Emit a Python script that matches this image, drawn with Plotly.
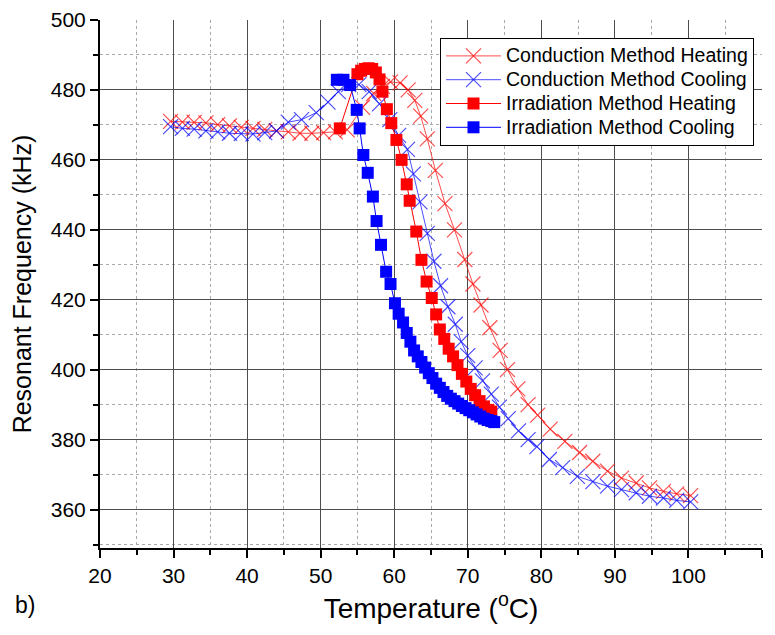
import plotly.graph_objects as go

# Conduction Method Heating (red X)
ch_x = [29.6, 31.2, 32.8, 34.4, 36.0, 37.6, 39.2, 40.8, 42.4, 44.0, 45.6, 47.2, 48.8, 50.4, 52.0, 53.6,
        55.7, 57.2, 58.4, 59.5, 60.8, 61.9, 62.8, 63.6, 64.5, 65.6, 66.9, 68.2, 69.6, 70.7, 71.8, 73.0,
        74.4, 75.4, 76.8, 78.2, 79.5, 81.2, 83.2, 85.2, 87.0, 89.0, 90.9, 92.9, 94.7, 96.6, 98.4, 100.3]
ch_y = [471.0, 470.8, 470.7, 470.6, 470.1, 469.7, 469.3, 469.0, 468.7, 468.3, 468.0, 467.6, 467.6, 467.8, 468.0, 468.6,
        475.0, 479.0, 481.0, 482.3, 482.0, 480.0, 477.0, 472.5, 466.0, 457.0, 447.5, 440.0, 431.5, 424.5, 418.5, 412.0,
        405.5, 400.0, 394.5, 390.0, 387.0, 383.0, 379.5, 376.3, 373.8, 371.0, 369.0, 367.6, 366.2, 365.2, 364.5, 364.0]

# Conduction Method Cooling (blue X)
cc_x = [29.6, 31.2, 32.8, 34.4, 36.0, 37.6, 39.2, 40.8, 42.4, 44.0, 45.6, 47.4, 49.4, 51.0, 52.4, 53.8,
        55.2, 56.6, 58.0, 59.4, 60.6, 61.8, 62.6, 63.5, 64.5, 65.4, 66.3, 67.3, 68.3, 69.1, 70.0, 71.0,
        72.0, 73.2, 74.3, 75.5, 76.9, 78.2, 79.4, 81.1, 82.9, 84.9, 87.0, 89.0, 90.9, 92.9, 94.7, 96.6,
        98.4, 100.3]
cc_y = [469.5, 469.0, 468.8, 468.3, 468.0, 467.6, 467.5, 467.4, 467.8, 468.3, 470.8, 471.5, 473.5, 476.5, 479.5, 481.5,
        481.5, 479.5, 476.0, 471.5, 467.0, 463.0, 456.0, 448.0, 439.0, 431.0, 424.0, 418.0, 413.0, 408.0, 404.0, 400.5,
        396.8, 393.0, 389.3, 386.0, 382.5, 380.0, 378.0, 374.3, 372.0, 369.5, 368.0, 366.7, 365.7, 364.8, 363.8, 363.3,
        362.6, 362.2]

# Irradiation Method Heating (red squares)
ih_x = [52.6, 55.0, 55.5, 56.0, 56.5, 57.0, 57.5, 58.0, 58.4, 59.0, 59.6, 60.3, 61.0, 61.7, 62.1, 63.0, 63.7,
        64.4, 65.1, 65.7, 66.2, 66.8, 67.4, 68.0, 68.6, 69.2, 69.8, 70.4, 71.0, 71.6, 72.2, 72.8, 73.2]
ih_y = [469.0, 484.5, 485.5, 486.0, 486.2, 486.0, 485.0, 483.0, 479.5, 474.5, 470.5, 465.7, 460.0, 453.0, 448.3, 439.5, 431.4,
        425.2, 420.5, 415.8, 411.5, 408.8, 406.0, 403.8, 401.3, 398.8, 396.6, 394.5, 392.7, 391.0, 389.5, 388.5, 388.0]

# Irradiation Method Cooling (blue squares)
ic_x = [52.2, 53.1, 54.0, 54.9, 55.3, 55.8, 56.4, 57.1, 57.6, 58.2, 58.9, 59.5, 60.1, 60.6, 61.2, 61.7, 62.2, 62.7,
        63.2, 63.7, 64.2, 64.7, 65.2, 65.7, 66.2, 66.7, 67.2, 67.7, 68.2, 68.7, 69.2, 69.7, 70.2, 70.7, 71.2, 71.7,
        72.2, 72.7, 73.2, 73.6]
ic_y = [482.9, 482.9, 481.4, 474.3, 469.0, 461.4, 456.3, 449.5, 442.5, 435.7, 428.0, 424.5, 419.0, 416.0, 413.5, 410.5,
        408.0, 405.5, 403.8, 402.2, 400.6, 399.0, 397.6, 396.0, 394.8, 393.6, 392.5, 391.7, 391.0, 390.3, 389.6, 389.0,
        388.4, 387.8, 387.2, 386.6, 386.0, 385.6, 385.3, 385.0]

names = ["Conduction Method Heating", "Conduction Method Cooling",
         "Irradiation Method Heating", "Irradiation Method Cooling"]

RED = "rgba(255,0,0,0.7)"
BLUE = "rgba(0,0,255,0.7)"
FONT = "Liberation Sans, Arial, sans-serif"

# page body adds an 8 px offset; target plot area on screen: x 100..762, y 20..548
OFF = 8
W, H = 775 - OFF, 635 - OFF
L, R, T, B = 100 - OFF, 13, 20 - OFF, 87
PW, PH = W - L - R, H - T - B
Y_MIN, Y_MAX = 349, 500


def lbl(s):
    return '<span style="font-size:19.5px">' + s + '</span>'


fig = go.Figure()
fig.add_trace(go.Scatter(x=ch_x, y=ch_y, name=lbl(names[0]), mode="lines+markers",
                         line=dict(color=RED, width=1),
                         marker=dict(symbol="x-thin", size=15, line=dict(color=RED, width=1.2))))
fig.add_trace(go.Scatter(x=cc_x, y=cc_y, name=lbl(names[1]), mode="lines+markers",
                         line=dict(color=BLUE, width=1),
                         marker=dict(symbol="x-thin", size=15, line=dict(color=BLUE, width=1.2))))
fig.add_trace(go.Scatter(x=ih_x, y=ih_y, name=lbl(names[2]), mode="lines+markers",
                         line=dict(color="#ff0000", width=1),
                         marker=dict(symbol="square", size=12, color="#ff0000")))
fig.add_trace(go.Scatter(x=ic_x, y=ic_y, name=lbl(names[3]), mode="lines+markers",
                         line=dict(color="#0000ff", width=1),
                         marker=dict(symbol="square", size=12, color="#0000ff")))

fig.update_layout(
    width=W, height=H,
    margin=dict(l=L, r=R, t=T, b=B),
    paper_bgcolor="white", plot_bgcolor="white",
    font=dict(family=FONT, color="black"),
    showlegend=True,
    legend=dict(x=(440 - OFF - L) / PW, y=1 - (38 - OFF - T) / PH, xanchor="left", yanchor="top",
                bgcolor="white", bordercolor="black", borderwidth=1,
                font=dict(size=16, family=FONT), tracegroupgap=0, itemwidth=55),
    annotations=[dict(text="b)", x=(25 - OFF - L) / PW, y=-(605 - OFF - T - PH) / PH, xref="paper", yref="paper",
                      xanchor="center", yanchor="middle", showarrow=False,
                      font=dict(size=23, family=FONT))],
    # the reference has no gridline along the top edge of the plot
    shapes=[dict(type="line", xref="paper", yref="y", x0=0, x1=1, y0=Y_MAX, y1=Y_MAX,
                 line=dict(color="white", width=3), layer="between")],
)

fig.update_xaxes(range=[20, 110], dtick=10, tick0=20, automargin=False,
                 showline=True, linecolor="black", linewidth=2,
                 ticks="outside", ticklen=8, tickwidth=2, tickcolor="black",
                 tickfont=dict(size=21, family=FONT),
                 showgrid=True, gridcolor="#4d4d4d", gridwidth=1.2,
                 zeroline=False,
                 minor=dict(dtick=5, ticks="outside", ticklen=5, tickwidth=1.5, tickcolor="black",
                            showgrid=True, gridcolor="#aaaaaa", griddash="dot", gridwidth=1),
                 title=dict(text="Temperature (<sup>o</sup>C)", font=dict(size=28, family=FONT), standoff=12))
fig.update_yaxes(range=[Y_MIN, Y_MAX], dtick=20, tick0=360, automargin=False,
                 showline=True, linecolor="black", linewidth=2,
                 ticks="outside", ticklen=8, tickwidth=2, tickcolor="black",
                 tickfont=dict(size=21, family=FONT),
                 showgrid=True, gridcolor="#4d4d4d", gridwidth=1.2,
                 zeroline=False,
                 minor=dict(dtick=10, ticks="outside", ticklen=5, tickwidth=1.5, tickcolor="black",
                            showgrid=True, gridcolor="#aaaaaa", griddash="dot", gridwidth=1),
                 title=dict(text="Resonant Frequency (kHz)", font=dict(size=25, family=FONT), standoff=12))

fig.write_html("out.html")
